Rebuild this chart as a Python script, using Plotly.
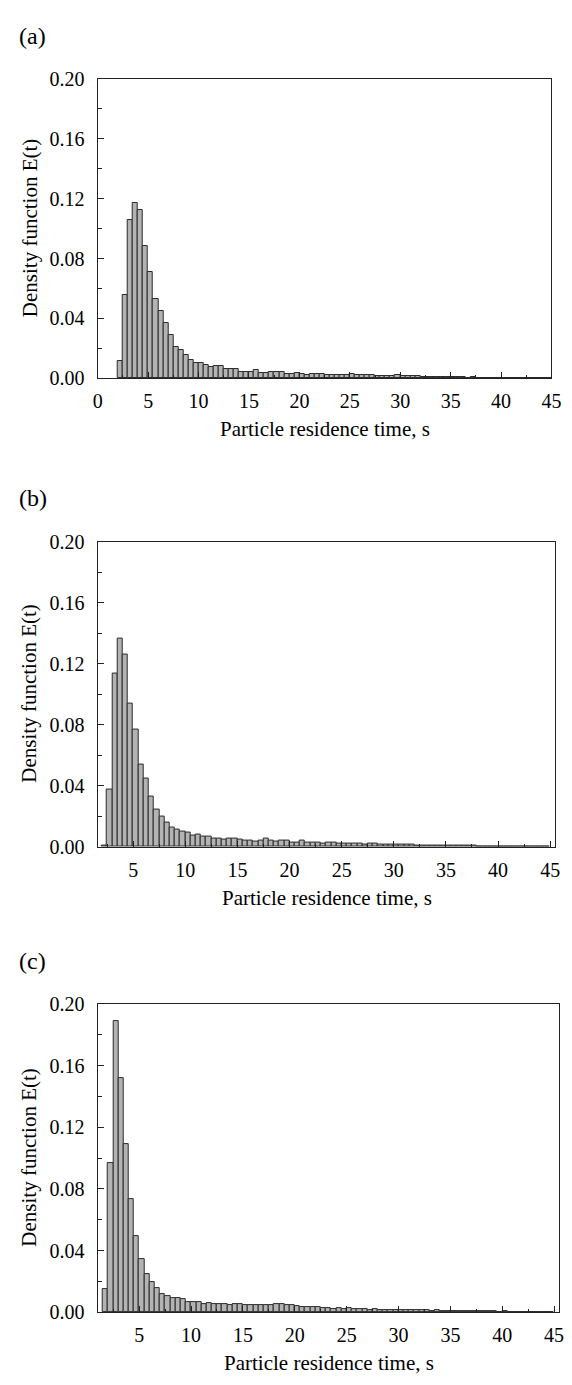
import plotly.graph_objects as go

# ---------------- data (bin width 0.5 s) ----------------
bin_width = 0.5

a_start = 2.0
a_values = [0.0117, 0.0556, 0.1055, 0.1174, 0.1124, 0.0883, 0.0713, 0.0528, 0.0450, 0.0369,
            0.0287, 0.0210, 0.0188, 0.0155, 0.0121, 0.0099, 0.0099, 0.0088, 0.0073, 0.0084,
            0.0082, 0.0062, 0.0064, 0.0062, 0.0038, 0.0044, 0.0044, 0.0053, 0.0033, 0.0035,
            0.0042, 0.0038, 0.0040, 0.0031, 0.0031, 0.0033, 0.0029, 0.0020, 0.0029, 0.0026,
            0.0026, 0.0024, 0.0020, 0.0020,
            0.0022, 0.0020, 0.0025, 0.0020, 0.0020, 0.0018, 0.0020, 0.0015, 0.0012, 0.0015,
            0.0015, 0.0018, 0.0015, 0.0013, 0.0012, 0.0012, 0.0010, 0.0010, 0.0008, 0.0005,
            0.0005, 0.0008, 0.0005, 0.0008, 0.0005, 0.0004, 0.0005, 0.0004, 0.0003, 0.0003,
            0.0003, 0.0003, 0.0003, 0.0002, 0.0002, 0.0002, 0.0002, 0.0002, 0.0001, 0.0001,
            0.0001, 0.0001]

b_start = 2.0
b_values = [0.0010, 0.0376, 0.1133, 0.1366, 0.1258, 0.0940, 0.0768, 0.0538, 0.0445, 0.0329,
            0.0241, 0.0198, 0.0157, 0.0125, 0.0114, 0.0099, 0.0090, 0.0075, 0.0080, 0.0065,
            0.0065, 0.0056, 0.0050, 0.0045, 0.0054, 0.0054, 0.0045, 0.0043, 0.0039, 0.0034,
            0.0043, 0.0050, 0.0043, 0.0032, 0.0037, 0.0037, 0.0028, 0.0026, 0.0037, 0.0028,
            0.0026, 0.0028, 0.0022,
            0.0025, 0.0024, 0.0022, 0.0020, 0.0020, 0.0018, 0.0020, 0.0015, 0.0018, 0.0018,
            0.0015, 0.0014, 0.0012, 0.0015, 0.0012, 0.0015, 0.0016, 0.0010, 0.0010, 0.0009,
            0.0009, 0.0008, 0.0008, 0.0006, 0.0006, 0.0006, 0.0005, 0.0005, 0.0004, 0.0002,
            0.0003, 0.0003, 0.0002, 0.0003, 0.0002, 0.0002, 0.0001, 0.0002, 0.0001, 0.0001,
            0.0002, 0.0001, 0.0001]

c_start = 1.5
c_values = [0.0147, 0.0967, 0.1890, 0.1520, 0.1090, 0.0735, 0.0494, 0.0345, 0.0247, 0.0196,
            0.0153, 0.0119, 0.0104, 0.0089, 0.0094, 0.0083, 0.0068, 0.0064, 0.0062, 0.0053,
            0.0058, 0.0051, 0.0055, 0.0051, 0.0047, 0.0055, 0.0051, 0.0047, 0.0043, 0.0045,
            0.0045, 0.0045, 0.0047, 0.0051, 0.0055, 0.0047, 0.0043,
            0.0040, 0.0030, 0.0032, 0.0030, 0.0030, 0.0028, 0.0025, 0.0022, 0.0025, 0.0022,
            0.0024, 0.0020, 0.0018, 0.0018, 0.0016, 0.0017, 0.0015, 0.0014, 0.0015, 0.0013,
            0.0014, 0.0012, 0.0012, 0.0010, 0.0010, 0.0011, 0.0009, 0.0010, 0.0008, 0.0009,
            0.0007, 0.0008, 0.0006, 0.0006, 0.0005, 0.0005, 0.0004, 0.0005, 0.0004, 0.0003,
            0.0004, 0.0003, 0.0003, 0.0002, 0.0002, 0.0002, 0.0002, 0.0001, 0.0001, 0.0001]

panel_labels = ["(a)", "(b)", "(c)"]
x_title = "Particle residence time, s"
y_title = "Density function E(t)"
y_ticks = [0.00, 0.04, 0.08, 0.12, 0.16, 0.20]
x_ranges = [[0, 45], [1.6, 45.5], [1.0, 45.5]]

# ---------------- layout geometry (pixels) ----------------
W, H = 572, 1385
panels = [
    dict(start=a_start, vals=a_values, left=87, right=553, top=61, bottom=365),
    dict(start=b_start, vals=b_values, left=87, right=557, top=531, bottom=841),
    dict(start=c_start, vals=c_values, left=87, right=561, top=1001, bottom=1314),
]

FONT = "Liberation Serif, Times New Roman, serif"
fig = go.Figure()
annotations = []

for i, p in enumerate(panels):
    n = i + 1
    xs = [p["start"] + bin_width * (k + 0.5) for k in range(len(p["vals"]))]
    xa = "x" if n == 1 else f"x{n}"
    ya = "y" if n == 1 else f"y{n}"
    fig.add_trace(go.Bar(
        x=xs, y=p["vals"], width=bin_width,
        marker=dict(color="#b3b3b3", line=dict(color="#2a2a2a", width=1)),
        xaxis=xa, yaxis=ya, showlegend=False,
    ))
    xdom = [p["left"] / W, p["right"] / W]
    ydom = [1 - p["bottom"] / H, 1 - p["top"] / H]
    axis_common = dict(
        showline=True, linecolor="#222", linewidth=1.2, mirror=True,
        ticks="inside", tickcolor="#222", showgrid=False, zeroline=False,
        tickfont=dict(family=FONT, size=20, color="black"),
    )
    fig.layout[f"xaxis{'' if n == 1 else n}"] = dict(
        domain=xdom, anchor=ya, range=x_ranges[i], tick0=0, dtick=5,
        ticklen=6, ticklabelstandoff=5,
        minor=dict(ticks="inside", dtick=2.5, ticklen=3, tickcolor="#222"),
        **axis_common,
    )
    fig.layout[f"yaxis{'' if n == 1 else n}"] = dict(
        domain=ydom, anchor=xa, range=[0, 0.2], tickvals=y_ticks,
        ticktext=[f"{v:.2f}" for v in y_ticks], ticklen=6, ticklabelstandoff=8,
        minor=dict(ticks="inside", dtick=0.02, ticklen=4, tickcolor="#222"),
        **axis_common,
    )
    # panel label
    annotations.append(dict(
        text=panel_labels[i], xref="paper", yref="paper",
        x=4 / W, y=1 - (p["top"] - 44) / H, xanchor="left", yanchor="middle",
        showarrow=False, font=dict(family=FONT, size=24, color="black"),
    ))
    # y title
    annotations.append(dict(
        text=y_title, xref="paper", yref="paper", textangle=-90,
        x=17 / W, y=1 - ((p["top"] + p["bottom"]) / 2) / H,
        xanchor="center", yanchor="middle", showarrow=False,
        font=dict(family=FONT, size=21, color="black"),
    ))
    # x title
    annotations.append(dict(
        text=x_title, xref="paper", yref="paper",
        x=((p["left"] + p["right"]) / 2) / W, y=1 - (p["bottom"] + 52) / H,
        xanchor="center", yanchor="middle", showarrow=False,
        font=dict(family=FONT, size=21, color="black"),
    ))

fig.update_layout(
    width=W, height=H, margin=dict(l=0, r=0, t=0, b=0),
    paper_bgcolor="white", plot_bgcolor="white",
    bargap=0, annotations=annotations,
)

fig.write_html("out.html")
